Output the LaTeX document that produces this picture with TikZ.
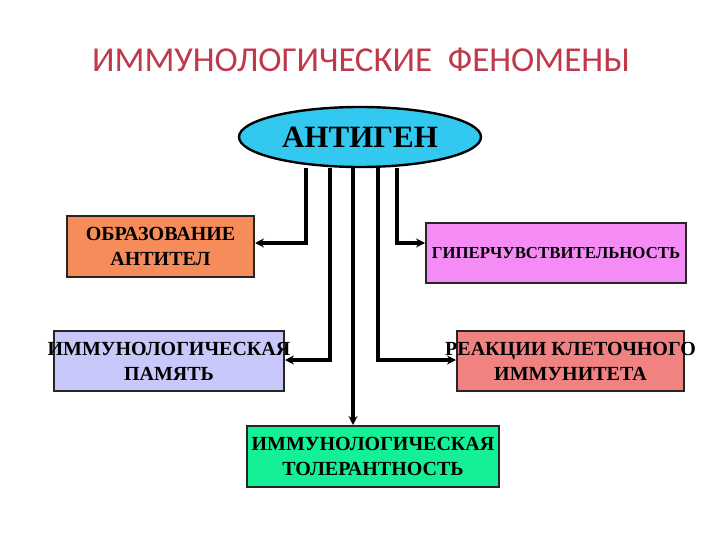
\documentclass[tikz,border=0pt]{standalone}
\usepackage{fontspec}
\setmainfont{Liberation Serif}
\newfontfamily\titlefont{Carlito}
\usetikzlibrary{shapes.geometric,arrows.meta}
\definecolor{titlered}{RGB}{192,57,75}
\definecolor{antigen}{RGB}{50,200,240}
\definecolor{cOrange}{RGB}{245,140,90}
\definecolor{cLav}{RGB}{200,200,250}
\definecolor{cViolet}{RGB}{245,140,245}
\definecolor{cSalmon}{RGB}{240,130,130}
\definecolor{cGreen}{RGB}{20,240,150}
\tikzset{
  box/.style={draw=black!85, line width=2pt, inner sep=0pt, anchor=north west, align=center, font=\bfseries\fontsize{20}{25}\selectfont},
  boxtext/.style={align=center, font=\bfseries\fontsize{20}{25}\selectfont},
  conn/.style={line width=3.2pt, -{Stealth[length=9pt,width=9pt]}},
}
\begin{document}
\begin{tikzpicture}[x=1pt,y=-1pt]
\useasboundingbox (0,0) rectangle (720,540);
\node[font=\titlefont\fontsize{35}{40}\selectfont, text=titlered] (title) at (361,60) {ИММУНОЛОГИЧЕСКИЕ\ \ ФЕНОМЕНЫ};
\node[ellipse, draw=black, line width=2.4pt, fill=antigen, minimum width=242pt, minimum height=60pt, inner sep=0pt, font=\bfseries\fontsize{31}{34}\selectfont] (ag) at (360,137) {АНТИГЕН};
\node[box, fill=cOrange, minimum width=187pt, minimum height=61pt] (b1) at (66,215) {ОБРАЗОВАНИЕ\\АНТИТЕЛ};
\node[box, fill=cViolet, minimum width=260pt, minimum height=60pt, font=\bfseries\fontsize{16.8}{20}\selectfont] (b3) at (425,222) {ГИПЕРЧУВСТВИТЕЛЬНОСТЬ};
\node[box, fill=cLav, minimum width=230pt, minimum height=60pt] (b2) at (53,330) {};
\node[boxtext] (t2) at (b2.center) {ИММУНОЛОГИЧЕСКАЯ\\ПАМЯТЬ};
\node[box, fill=cSalmon, minimum width=227pt, minimum height=60pt] (b4) at (456,330) {};
\node[boxtext] (t4) at (b4.center) {РЕАКЦИИ КЛЕТОЧНОГО\\ИММУНИТЕТА};
\node[box, fill=cGreen, minimum width=252pt, minimum height=61pt] (b5) at (246,425) {ИММУНОЛОГИЧЕСКАЯ\\ТОЛЕРАНТНОСТЬ};
\coordinate (c1) at (306,243);
\coordinate (c2) at (330,360);
\coordinate (c3) at (353,167);
\coordinate (c4) at (378,360);
\coordinate (c5) at (397,243);
\draw[conn] (ag.south -| c1) -- (c1) -- (b1.east |- c1);
\draw[conn] (ag.south -| c2) -- (c2) -- (b2.east |- c2);
\draw[conn] (c3) -- (b5.north -| c3);
\draw[conn] (ag.south -| c4) -- (c4) -- (b4.west |- c4);
\draw[conn] (ag.south -| c5) -- (c5) -- (b3.west |- c5);
\end{tikzpicture}
\end{document}
